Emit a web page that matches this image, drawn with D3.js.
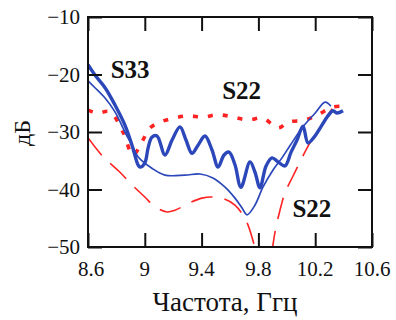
<!DOCTYPE html>
<html>
<head>
<meta charset="utf-8">
<script src="https://cdn.jsdelivr.net/npm/d3@7"></script>
<style>
  html, body { margin: 0; padding: 0; background: #fff; }
  svg { display: block; }
</style>
</head>
<body>
<svg id="chart" width="396" height="320"></svg>
<script>
// Frequency sweep, GHz, and return loss, dB

// S33, measured (thick blue)
const s33MeasFreq = [8.6, 8.649, 8.72, 8.79, 8.86, 8.91, 8.952, 8.966, 9.0, 9.023, 9.05, 9.086, 9.142, 9.192, 9.248, 9.29, 9.332, 9.375, 9.424, 9.473, 9.516, 9.558, 9.593, 9.635, 9.677, 9.741, 9.776, 9.811, 9.854, 9.896, 9.938, 9.987, 10.03, 10.072, 10.114, 10.149, 10.192, 10.24, 10.29, 10.325, 10.352, 10.396];
const s33MeasDb   = [-18.3, -20.1, -22.3, -25.3, -28.8, -32.3, -35.7, -36.1, -35.4, -32.8, -30.9, -30.7, -34.0, -31.4, -29.1, -31.4, -33.7, -32.3, -30.7, -33.1, -36.1, -34.0, -33.5, -35.7, -39.6, -35.2, -37.0, -39.7, -35.9, -34.5, -35.2, -35.9, -33.5, -31.4, -29.0, -31.9, -30.9, -29.1, -27.2, -26.3, -26.7, -26.3];

// S33, calculated (thin blue)
const s33CalcFreq = [8.6, 8.649, 8.72, 8.79, 8.86, 8.91, 8.952, 9.05, 9.142, 9.283, 9.389, 9.48, 9.565, 9.635, 9.685, 9.72, 9.776, 9.832, 9.903, 9.966, 10.022, 10.107, 10.2, 10.27, 10.31];
const s33CalcDb   = [-21.1, -22.3, -24.1, -26.5, -30.0, -32.3, -34.3, -36.3, -37.5, -37.5, -37.3, -38.0, -39.6, -41.5, -43.2, -44.4, -42.7, -39.6, -36.6, -34.5, -32.4, -29.3, -26.7, -24.8, -25.5];

// S22, measured (red dotted)
const s22MeasFreq = [8.6, 8.663, 8.755, 8.846, 8.917, 8.98, 9.037, 9.107, 9.2, 9.304, 9.41, 9.515, 9.62, 9.727, 9.832, 9.938, 10.008, 10.128, 10.22, 10.318, 10.39];
const s22MeasDb   = [-26.2, -26.7, -26.5, -30.0, -34.0, -31.7, -29.3, -28.3, -27.6, -27.2, -27.4, -27.0, -27.4, -27.9, -27.6, -29.3, -28.3, -27.9, -27.0, -25.7, -25.5];

// S22, calculated (red dashed)
const s22CalcFreq = [8.6, 8.706, 8.825, 8.91, 9.0, 9.072, 9.156, 9.213, 9.318, 9.403, 9.473, 9.565, 9.635, 9.69, 9.727, 9.755, 9.78, 9.82, 9.86, 9.896, 9.917, 9.952, 9.987, 10.037, 10.107, 10.163, 10.248, 10.304, 10.354];
const s22CalcDb   = [-31.0, -34.3, -37.0, -39.2, -41.3, -43.0, -43.9, -43.6, -42.3, -41.5, -41.3, -41.7, -42.7, -44.4, -46.2, -48.3, -50.5, -53.5, -53.5, -50.5, -47.4, -43.6, -40.6, -38.0, -34.5, -31.9, -28.8, -26.5, -24.8];

// Axis ticks
const xTicks = [8.6, 9, 9.4, 9.8, 10.2, 10.6];
const yTicks = [-10, -20, -30, -40, -50];

// Curve labels
const labels = [
  { text: "S33", f: 8.76, db: -20.6 },
  { text: "S22", f: 9.545, db: -24.3 },
  { text: "S22", f: 10.04, db: -44.8 }
];

const serif = "'Liberation Serif', 'Times New Roman', 'DejaVu Serif', serif";

const svg = d3.select("#chart");
const plotLeft = 88, plotRight = 372, plotTop = 17, plotBottom = 247;

const x = d3.scaleLinear().domain([8.6, 10.6]).range([plotLeft, plotRight]);
const y = d3.scaleLinear().domain([-50, -10]).range([plotBottom, plotTop]);

const blue = "#2b47b9";
const red = "#ff2222";

svg.append("defs").append("clipPath").attr("id", "plotClip")
  .append("rect").attr("x", plotLeft).attr("y", plotTop)
  .attr("width", plotRight - plotLeft).attr("height", plotBottom - plotTop);

const plot = svg.append("g").attr("clip-path", "url(#plotClip)");

function series(freq, db) { return freq.map((f, i) => [f, db[i]]); }
const line = d3.line().x(d => x(d[0])).y(d => y(d[1])).curve(d3.curveCatmullRom.alpha(0.5));

// red dashed
plot.append("path").datum(series(s22CalcFreq, s22CalcDb))
  .attr("d", line).attr("fill", "none").attr("stroke", red)
  .attr("stroke-width", 1.6).attr("stroke-dasharray", "22,12");

// red dotted
plot.append("path").datum(series(s22MeasFreq, s22MeasDb))
  .attr("d", line).attr("fill", "none").attr("stroke", red)
  .attr("stroke-width", 3.6).attr("stroke-dasharray", "5,10");

// thin blue
plot.append("path").datum(series(s33CalcFreq, s33CalcDb))
  .attr("d", line).attr("fill", "none").attr("stroke", blue)
  .attr("stroke-width", 1.7);

// thick blue
plot.append("path").datum(series(s33MeasFreq, s33MeasDb))
  .attr("d", line).attr("fill", "none").attr("stroke", blue)
  .attr("stroke-width", 3.4).attr("stroke-linejoin", "round");

// Frame with inward ticks on all four sides
const tickLen = 14;
const axisG = svg.append("g");
axisG.append("g").attr("transform", `translate(0,${plotBottom})`)
  .call(d3.axisTop(x).tickValues(xTicks).tickSize(tickLen).tickFormat(""));
axisG.append("g").attr("transform", `translate(0,${plotTop})`)
  .call(d3.axisBottom(x).tickValues(xTicks).tickSize(tickLen).tickFormat(""));
axisG.append("g").attr("transform", `translate(${plotLeft},0)`)
  .call(d3.axisRight(y).tickValues(yTicks).tickSize(tickLen).tickFormat(""));
axisG.append("g").attr("transform", `translate(${plotRight},0)`)
  .call(d3.axisLeft(y).tickValues(yTicks).tickSize(tickLen).tickFormat(""));
axisG.selectAll(".domain").remove();
axisG.selectAll("line").attr("stroke", "#111").attr("stroke-width", 2);

svg.append("rect").attr("x", plotLeft).attr("y", plotTop)
  .attr("width", plotRight - plotLeft).attr("height", plotBottom - plotTop)
  .attr("fill", "none").attr("stroke", "#111").attr("stroke-width", 2);

// Tick labels
const fmtY = d => String(d).replace("-", "\u2212");
svg.append("g").selectAll("text").data(yTicks).join("text")
  .attr("x", plotLeft - 8).attr("y", d => y(d))
  .attr("dy", "0.35em").attr("text-anchor", "end")
  .attr("font-family", serif).attr("fill", "#111")
  .attr("font-size", 21).text(fmtY);

svg.append("g").selectAll("text").data(xTicks).join("text")
  .attr("x", d => x(d) + (d === 8.6 ? 3 : 0)).attr("y", 276)
  .attr("text-anchor", "middle")
  .attr("font-family", serif).attr("fill", "#111")
  .attr("font-size", 21).text(d => String(d));

// Axis titles
svg.append("text").attr("x", 225).attr("y", 311)
  .attr("text-anchor", "middle").attr("font-size", 27)
  .attr("font-family", serif).attr("fill", "#111")
  .text("Частота, Ггц");

svg.append("text")
  .attr("transform", `translate(30,133) rotate(-90)`)
  .attr("text-anchor", "middle").attr("font-size", 24)
  .attr("font-family", serif).attr("fill", "#111")
  .text("дБ");

// Curve labels
svg.append("g").selectAll("text").data(labels).join("text")
  .attr("x", d => x(d.f)).attr("y", d => y(d.db))
  .attr("font-family", serif).attr("fill", "#111")
  .attr("font-size", 25).attr("font-weight", "bold")
  .text(d => d.text);
</script>
</body>
</html>
